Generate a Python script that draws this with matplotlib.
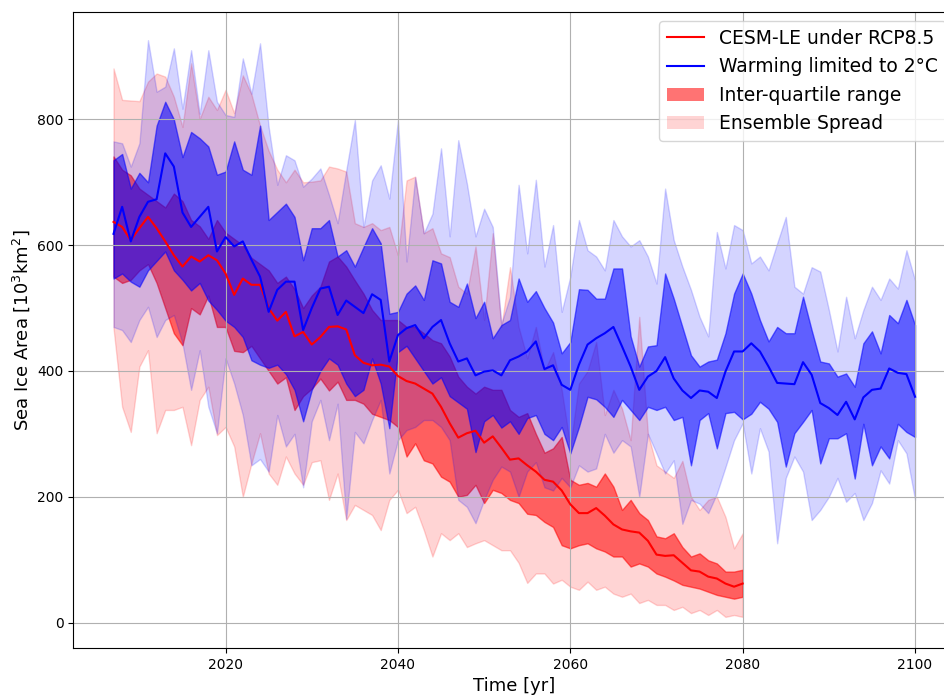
import numpy as np
import matplotlib
matplotlib.use("Agg")
import matplotlib.pyplot as plt
from matplotlib.lines import Line2D
from matplotlib.patches import Patch

# ─── Data (10^3 km^2) ────────────────────────────────────────────────────────
years_rcp = np.arange(2007, 2081)
years_2c = np.arange(2007, 2101)

rcp_median = [
    637, 629, 608, 627, 645, 627, 606, 584, 566, 582,
    574, 584, 576, 555, 521, 547, 537, 537, 500, 480,
    494, 455, 462, 442, 454, 470, 471, 466, 425, 413,
    409, 410, 407, 392, 384, 380, 372, 364, 343, 317,
    294, 301, 305, 286, 296, 278, 259, 261, 250, 240,
    227, 224, 210, 188, 174, 174, 182, 170, 156, 148,
    145, 143, 130, 108, 106, 107, 95, 83, 81, 73,
    70, 62, 57, 62,
]
rcp_q75 = [
    741, 720, 711, 690, 680, 670, 660, 682, 670, 640, 630, 610,
    640, 620, 610, 600, 580, 570, 560, 540, 550, 530, 500, 520,
    534, 574, 582, 566, 544, 523, 497, 481, 481, 481,
    470, 470, 460, 449, 444, 423, 391, 375, 364, 375, 370, 370,
    338, 327, 333, 300, 270, 277,
    295, 227, 219, 222, 216, 237, 216, 179, 195, 174, 163, 137,
    134, 142, 120, 105, 110, 99, 94, 81, 81, 84,
]
rcp_q25 = [
    550, 540, 545, 560, 570, 540, 500, 460, 441, 500, 490, 520,
    470, 470, 432, 430, 440, 420, 400, 380, 390, 338, 360, 372,
    388, 369, 383, 354, 354, 348, 332, 327, 322, 311,
    264, 285, 258, 253, 232, 224, 200, 203, 219, 190, 211, 206,
    195, 190, 173, 171, 160, 152,
    123, 118, 123, 126, 118, 113, 105, 105, 89, 94, 89, 78,
    73, 67, 60, 57, 54, 49, 44, 41, 38, 41,
]
rcp_max = [
    881, 831, 830, 829, 860, 873, 868, 836, 788, 889, 801, 836,
    815, 847, 810, 870, 840, 790, 750, 720, 700, 720, 700, 701,
    703, 725, 722, 717, 635, 629, 635, 624, 629, 584, 703, 709,
    619, 627, 587, 581, 534, 523, 598, 481, 619, 470, 565,
    470, 420, 470, 400, 430, 370, 280, 380, 400, 446, 330, 370,
    340, 290, 486, 300, 250, 240, 230, 257, 200, 179, 195, 200,
    168, 118, 142,
]
rcp_min = [
    468, 343, 303, 407, 433, 301, 338, 338, 343, 282, 354, 375,
    298, 311, 280, 200, 253, 301, 237, 219, 264, 237, 219, 255,
    258, 195, 237, 163, 187, 179, 171, 147, 195, 211, 174, 184,
    147, 105, 142, 131, 142, 120, 126, 131, 123, 115, 115,
    95, 63, 78, 78, 62,
    68, 57, 52, 65, 52, 57, 46, 41, 46, 31, 36, 28,
    28, 20, 25, 15, 20, 12, 20, 9, 12, 9,
]

w2c_median = [
    618, 661, 606, 645, 669, 673, 746, 725, 652, 629,
    645, 661, 590, 613, 598, 606, 577, 550, 494, 529,
    542, 542, 465, 500, 531, 534, 489, 512, 502, 492,
    522, 513, 415, 457, 468, 473, 452, 470, 481, 444,
    415, 420, 393, 399, 401, 393, 417, 423, 431, 447,
    403, 409, 378, 370, 410, 442, 452, 460, 470, 439,
    407, 370, 391, 400, 422, 388, 369, 357, 369, 367,
    357, 399, 431, 431, 444, 431, 407, 381, 380, 379,
    414, 394, 349, 341, 330, 351, 323, 358, 370, 372,
    404, 397, 395, 359,
]
w2c_q75 = [
    735, 745, 690, 715, 700, 790, 828, 800, 740, 780, 770, 757,
    712, 717, 765, 720, 712, 790, 640, 653, 666, 645, 576, 627,
    627, 640, 582, 592, 566, 597, 627, 603, 491,
    494, 523, 536, 513, 576, 571, 510, 502, 539, 484, 510, 452, 473,
    481, 547, 510, 527, 500, 477, 428, 446, 530, 529, 515, 515, 563, 563,
    455, 407, 439, 441, 555, 515, 470, 425, 407, 415, 418, 460, 523, 555,
    523, 481, 447, 470, 460, 460, 518, 465, 415, 412,
    391, 396, 375, 444, 463, 428, 489, 476, 513, 473,
]
w2c_q25 = [
    547, 555, 542, 534, 560, 575, 590, 560, 545, 528, 540, 512,
    497, 480, 470, 454, 417, 410, 405, 410, 395, 370, 320, 370,
    400, 420, 410, 380, 360, 370, 420, 380, 309, 430, 440,
    420, 400, 380, 390, 360, 350, 340, 271, 320, 330, 310,
    320, 300, 325, 330, 300, 290, 311, 269, 311, 359, 355, 343, 327, 354,
    338, 322, 343, 338, 343, 322, 327, 250, 322, 333, 277, 333, 335, 323,
    332, 351, 340, 319, 248, 301, 319, 338, 253, 293,
    293, 301, 229, 316, 250, 280, 261, 316, 303, 295,
]
w2c_max = [
    765, 762, 725, 762, 926, 844, 852, 913, 817, 910, 809, 910,
    828, 807, 804, 897, 841, 921, 788, 696, 743, 735, 693, 706,
    722, 680, 635, 719, 799, 629, 703, 727, 674, 799, 574, 708,
    619, 650, 754, 614, 767, 698, 614, 658, 629, 475, 518,
    696, 587, 704, 566, 632, 494, 550, 640, 592, 582, 560, 640, 614,
    598, 608, 582, 539, 690, 608, 566, 529, 486, 455, 621, 563, 632, 624,
    571, 582, 560, 603, 645, 534, 523, 565, 558, 497,
    431, 518, 452, 497, 534, 513, 547, 531, 592, 544,
]
w2c_min = [
    470, 465, 446, 481, 502, 454, 481, 489, 444, 370, 433, 343,
    301, 420, 380, 330, 250, 260, 240, 330, 280, 300, 215, 320,
    354, 290, 348, 165, 303, 285, 322, 354, 237, 290, 306, 311,
    322, 322, 311, 290, 195, 184, 158, 195, 227, 248, 240,
    200, 240, 255, 215, 210, 230, 215, 250, 240, 245, 300, 270, 290,
    280, 200, 300, 269, 237, 258, 157, 195, 189, 174, 205, 247, 290, 317,
    237, 309, 272, 126, 230, 264, 240, 163, 179, 200,
    230, 192, 206, 163, 190, 242, 221, 290, 269, 195,
]

IQR_ALPHA = 0.55
SPREAD_ALPHA = 0.17

fig = plt.figure(figsize=(9.44, 6.95), dpi=100)
ax = fig.add_axes([0.0778, 0.0676, 0.934, 0.915])

# RCP8.5 ensemble
ax.fill_between(years_rcp, rcp_q25, rcp_q75, color="red", alpha=IQR_ALPHA)
ax.fill_between(years_rcp, rcp_min, rcp_max, color="red", alpha=SPREAD_ALPHA)
# 2 degC ensemble
ax.fill_between(years_2c, w2c_q25, w2c_q75, color="blue", alpha=IQR_ALPHA)
ax.fill_between(years_2c, w2c_min, w2c_max, color="blue", alpha=SPREAD_ALPHA)

ax.plot(years_rcp, rcp_median, color="red", linewidth=1.5, zorder=5)
ax.plot(years_2c, w2c_median, color="blue", linewidth=1.5, zorder=5)

ax.set_xlim(2002.35, 2104.65)
ax.set_ylim(-40.5, 970.6)
ax.grid(True)
ax.tick_params(labelsize=10)
ax.set_xlabel("Time [yr]", fontsize=13)
ax.set_ylabel("Sea Ice Area [$10^3$km$^2$]", fontsize=13)

handles = [
    Line2D([], [], color="red", linewidth=1.5),
    Line2D([], [], color="blue", linewidth=1.5),
    Patch(facecolor="red", alpha=IQR_ALPHA),
    Patch(facecolor="red", alpha=SPREAD_ALPHA),
]
labels = ["CESM-LE under RCP8.5", "Warming limited to 2°C",
          "Inter-quartile range", "Ensemble Spread"]
ax.legend(handles, labels, loc="upper right", fontsize=13.5)

fig.savefig("out.png", dpi=100)
